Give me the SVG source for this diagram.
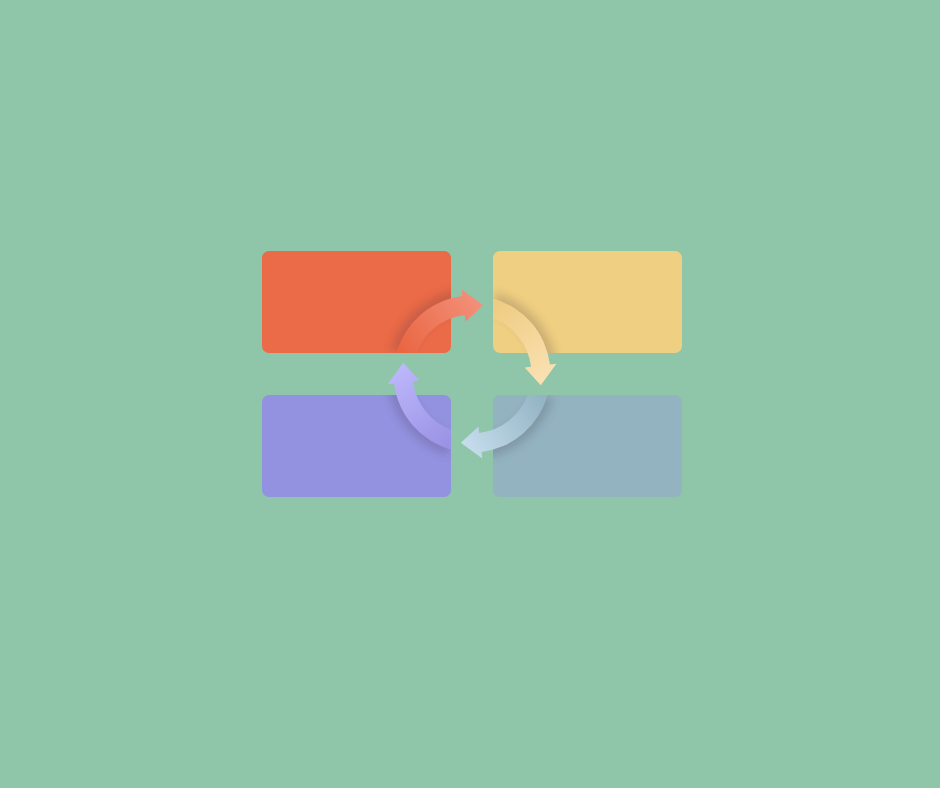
<svg xmlns="http://www.w3.org/2000/svg" width="940" height="788" viewBox="0 0 940 788">
  <defs>
    <style>
      .box { stroke: none; }
      .shadow { fill: #3a2a40; opacity: 0.2; }
    </style>
    <filter id="soft" x="-30%" y="-30%" width="160%" height="160%">
      <feGaussianBlur stdDeviation="4.5"/>
    </filter>
    <clipPath id="boxClip" clipPathUnits="userSpaceOnUse">
      <rect x="262" y="200" width="189" height="153"/>
    </clipPath>
    <path id="arrowShape" d="M 396.5 353 A 78.5 78.5 0 0 1 462.43 296.08 L 461.7 289.6 L 483.2 305.2 L 465.5 321.4 L 464.75 314.95 A 59.5 59.5 0 0 0 416.3 353 Z"/>
    <linearGradient id="gRed" gradientUnits="userSpaceOnUse" x1="402" y1="352" x2="480" y2="302">
      <stop offset="0" stop-color="#ea6642"/>
      <stop offset="1" stop-color="#f3907a"/>
    </linearGradient>
    <linearGradient id="gYellow" gradientUnits="userSpaceOnUse" x1="402" y1="352" x2="480" y2="302">
      <stop offset="0" stop-color="#efcc82"/>
      <stop offset="1" stop-color="#fae1b2"/>
    </linearGradient>
    <linearGradient id="gBlue" gradientUnits="userSpaceOnUse" x1="402" y1="352" x2="480" y2="302">
      <stop offset="0" stop-color="#93b4c3"/>
      <stop offset="1" stop-color="#c6ddec"/>
    </linearGradient>
    <linearGradient id="gPurple" gradientUnits="userSpaceOnUse" x1="402" y1="352" x2="480" y2="302">
      <stop offset="0" stop-color="#9a92e4"/>
      <stop offset="1" stop-color="#bdb7fb"/>
    </linearGradient>
  </defs>

  <rect x="0" y="0" width="940" height="788" fill="#8fc5a9"/>

  <g id="node-red">
    <rect class="box" x="262" y="251" width="189" height="102" rx="7" fill="#eb6a47"/>
  </g>
  <g id="node-yellow">
    <rect class="box" x="493" y="251" width="189" height="102" rx="7" fill="#efcf81"/>
  </g>
  <g id="node-purple">
    <rect class="box" x="262" y="395" width="189" height="102" rx="7" fill="#9392e0"/>
  </g>
  <g id="node-blue">
    <rect class="box" x="493" y="395" width="189" height="102" rx="7" fill="#93b3c0"/>
  </g>

  <g id="connectors">
    <g id="arrow-red">
      <g clip-path="url(#boxClip)">
        <use href="#arrowShape" class="shadow" filter="url(#soft)" transform="translate(472 374) scale(1.08) translate(-472 -374)"/>
      </g>
      <use href="#arrowShape" fill="url(#gRed)"/>
    </g>
    <g id="arrow-yellow" transform="rotate(90 472 374)">
      <g clip-path="url(#boxClip)">
        <use href="#arrowShape" class="shadow" filter="url(#soft)" transform="translate(472 374) scale(1.08) translate(-472 -374)"/>
      </g>
      <use href="#arrowShape" fill="url(#gYellow)"/>
    </g>
    <g id="arrow-blue" transform="rotate(180 472 374)">
      <g clip-path="url(#boxClip)">
        <use href="#arrowShape" class="shadow" filter="url(#soft)" transform="translate(472 374) scale(1.08) translate(-472 -374)"/>
      </g>
      <use href="#arrowShape" fill="url(#gBlue)"/>
    </g>
    <g id="arrow-purple" transform="rotate(270 472 374)">
      <g clip-path="url(#boxClip)">
        <use href="#arrowShape" class="shadow" filter="url(#soft)" transform="translate(472 374) scale(1.08) translate(-472 -374)"/>
      </g>
      <use href="#arrowShape" fill="url(#gPurple)"/>
    </g>
  </g>
</svg>
